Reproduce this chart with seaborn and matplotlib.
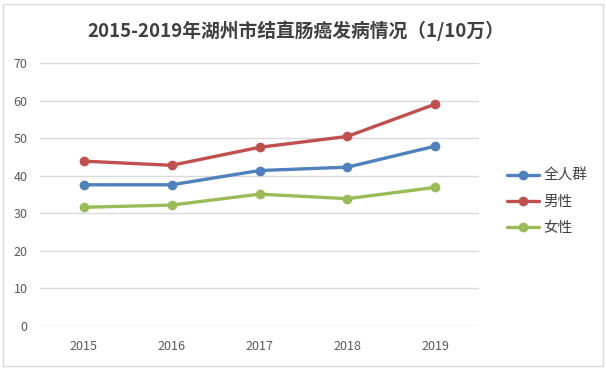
import matplotlib
matplotlib.use('Agg')
import matplotlib.pyplot as plt
import pandas as pd
import seaborn as sns
from matplotlib.patches import Rectangle

# data
years = ['2015', '2016', '2017', '2018', '2019']
all_pop = [37.6, 37.6, 41.4, 42.3, 47.9]
male = [43.9, 42.8, 47.6, 50.5, 59.1]
female = [31.6, 32.2, 35.1, 33.9, 36.9]
groups = ['全人群', '男性', '女性']
colors = ['#4F81BD', '#C0504D', '#9BBB59']

df = pd.DataFrame({
    'year': years * 3,
    'value': all_pop + male + female,
    'group': [g for g in groups for _ in years],
})

sns.set_style('white')
plt.rcParams['font.family'] = ['Noto Sans CJK SC', 'DejaVu Sans']

fig = plt.figure(figsize=(6.06, 3.69), dpi=100)
ax = fig.add_axes([40 / 606, 1 - 325.8 / 369, (479 - 40) / 606, (325.8 - 63.3) / 369])

sns.lineplot(data=df, x='year', y='value', hue='group', palette=colors,
             marker='o', markersize=7, markeredgewidth=0, linewidth=2.4,
             ax=ax, legend=False, sort=False)

ax.set_xlim(-0.5, 4.5)
ax.set_ylim(0, 70)
ax.set_yticks(range(0, 71, 10))
ax.yaxis.grid(True, color='#D9D9D9', linewidth=1)
ax.xaxis.grid(False)
for s in ax.spines.values():
    s.set_visible(False)
ax.set_xlabel('')
ax.set_ylabel('')
ax.tick_params(axis='both', length=0, labelsize=9, labelcolor='#595959')
ax.tick_params(axis='x', pad=10)
ax.tick_params(axis='y', pad=9)

# legend
handles = [plt.Line2D([], [], color=c, marker='o', markersize=7, linewidth=2.4,
                      markeredgewidth=0) for c in colors]
fig.legend(handles, groups, loc='center left', bbox_to_anchor=(494 / 606, 1 - 202 / 369),
           frameon=False, fontsize=10.5, handlelength=2.2, handletextpad=0.3,
           labelspacing=0.85, labelcolor='#404040')

fig.text(0.488, 1 - 31 / 369, '2015-2019年湖州市结直肠癌发病情况（1/10万）',
         ha='center', va='center', fontsize=13.5, fontweight='bold', color='#404040')

# chart area border
fig.patches.append(Rectangle((3 / 606, 3 / 369), 600 / 606, 362 / 369,
                             transform=fig.transFigure, fill=False,
                             edgecolor='#D9D9D9', linewidth=1))

fig.savefig('out.png', dpi=100, facecolor='white')
